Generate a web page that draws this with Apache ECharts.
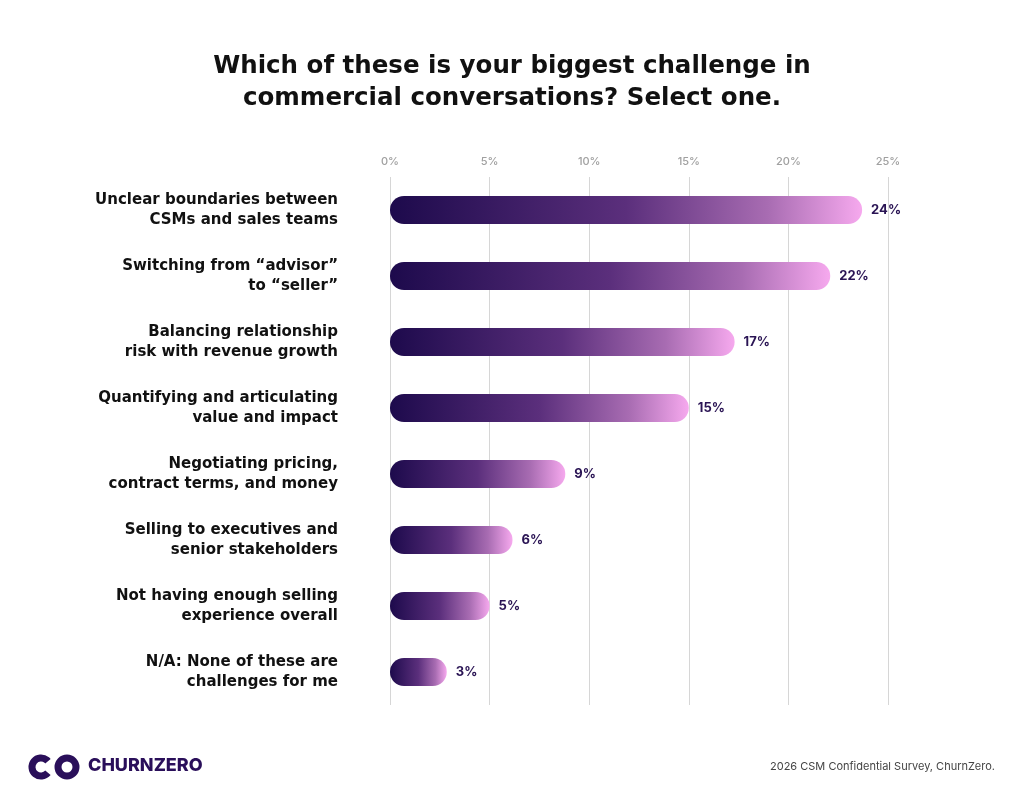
<!DOCTYPE html>
<html>
<head>
<meta charset="utf-8">
<script src="https://cdn.jsdelivr.net/npm/echarts@6/dist/echarts.min.js"></script>
<style>html,body{margin:0;padding:0;background:#fff;}#c{width:1024px;height:800px;}</style>
</head>
<body>
<div id="c"></div>
<script>
const categories = [
  "Unclear boundaries between\nCSMs and sales teams",
  "Switching from \u201cadvisor\u201d\nto \u201cseller\u201d",
  "Balancing relationship\nrisk with revenue growth",
  "Quantifying and articulating\nvalue and impact",
  "Negotiating pricing,\ncontract terms, and money",
  "Selling to executives and\nsenior stakeholders",
  "Not having enough selling\nexperience overall",
  "N/A: None of these are\nchallenges for me"
];
const values = [23.7, 22.1, 17.3, 15.0, 8.8, 6.15, 5.0, 2.85];
const valueLabels = ["24%", "22%", "17%", "15%", "9%", "6%", "5%", "3%"];
const tickLabelSuffix = "%";

const FONT = "Inter, 'Open Sans', sans-serif";
const WIDE = "'DejaVu Sans', Inter, sans-serif";
const chart = echarts.init(document.getElementById('c'), null, {renderer: 'canvas'});
const grad = new echarts.graphic.LinearGradient(0, 0, 1, 0, [
  {offset: 0, color: '#1d0a4c'},
  {offset: 0.5, color: '#5b2f7c'},
  {offset: 0.8, color: '#a86cb2'},
  {offset: 1, color: '#f6a9ee'}
]);
chart.setOption({
  backgroundColor: '#ffffff',
  animation: false,
  title: {
    text: 'Which of these is your biggest challenge in\ncommercial conversations? Select one.',
    left: 'center', top: 46,
    textStyle: {fontFamily: WIDE, fontWeight: 700, fontSize: 24.5, lineHeight: 32, color: '#111111'}
  },
  grid: {left: 390, right: 136, top: 177, height: 528},
  xAxis: {
    type: 'value', position: 'top', min: 0, max: 25, interval: 5,
    axisLine: {show: false}, axisTick: {show: false},
    axisLabel: {formatter: '{value}' + tickLabelSuffix, color: '#a0a0a0', fontSize: 11, fontFamily: FONT, fontWeight: 500, margin: 10},
    splitLine: {show: true, lineStyle: {color: '#d6d6d6', width: 1}}
  },
  yAxis: {
    type: 'category', data: categories, inverse: true,
    axisLine: {show: false}, axisTick: {show: false},
    axisLabel: {color: '#111111', fontSize: 15, fontWeight: 700, fontFamily: WIDE, lineHeight: 20, margin: 52, align: 'right'}
  },
  series: [{
    type: 'bar',
    data: values,
    barWidth: 28,
    itemStyle: {color: grad, borderRadius: 14},
    label: {
      show: true, position: 'right', distance: 9,
      formatter: p => valueLabels[p.dataIndex],
      color: '#2a1454', fontSize: 13, fontWeight: 700, fontFamily: FONT
    }
  }],
  graphic: [
    {type: 'arc', shape: {cx: 41, cy: 767, r: 9, startAngle: Math.PI * 0.22, endAngle: Math.PI * 1.78}, style: {stroke: '#2a0f5a', lineWidth: 7, fill: null}},
    {type: 'circle', shape: {cx: 67, cy: 767, r: 9}, style: {stroke: '#2a0f5a', lineWidth: 7, fill: null}},
    {type: 'text', left: 88, top: 757, style: {text: 'CHURNZERO', font: "800 18px " + FONT, fill: '#2a0f5a'}},
    {type: 'text', right: 29, top: 761, style: {text: '2026 CSM Confidential Survey, ChurnZero.', font: "400 11px " + FONT, fill: '#444444', textAlign: 'right'}}
  ]
});
</script>
</body>
</html>
